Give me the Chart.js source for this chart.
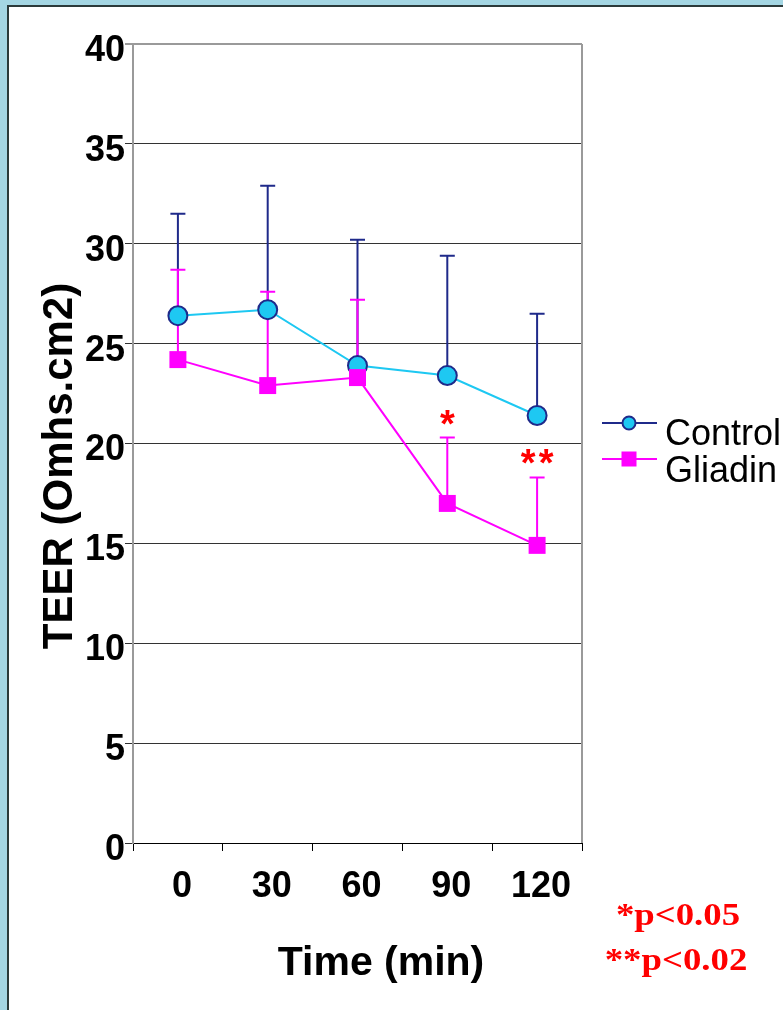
<!DOCTYPE html>
<html><head><meta charset="utf-8">
<script src="https://cdn.jsdelivr.net/npm/chart.js@4.4.0/dist/chart.umd.min.js"></script>
<style>
html,body{margin:0;padding:0;background:#a4d6e3;width:783px;height:1010px;overflow:hidden}
#frame{position:absolute;left:7px;top:5px;width:774px;height:1003px;border-left:2px solid #2b3a3a;border-top:2px solid #2b3a3a;background:#fff}
canvas{position:absolute;left:0;top:0}
</style></head><body>
<div id="frame"><canvas id="c" width="774" height="1003"></canvas></div>
<script>
const categories = ['0', '30', '60', '90', '120'];
const controlValues = [26.4, 26.7, 23.9, 23.4, 21.4];
const controlUpper = [31.5, 32.9, 30.2, 29.4, 26.5];
const gliadinValues = [24.2, 22.9, 23.3, 17.0, 14.9];
const gliadinUpper = [28.7, 27.6, 27.2, 20.3, 18.3];
const significance = ['', '', '', '*', '**'];
const seriesLabels = ['Control', 'Gliadin'];
const yTitle = 'TEER (Omhs.cm2)';
const xTitle = 'Time (min)';
const pNotes = ['*p<0.05', '**p<0.02'];

const NAVY = '#1f2a8a';
const CYAN = '#1ec8f2';
const MAG = '#ff00ff';
const SANS = '"Liberation Sans", Arial, sans-serif';
const SERIF = '"Liberation Serif", "Times New Roman", serif';

const extras = {
  id: 'extras',
  beforeDatasetsDraw(chart) {
    const ctx = chart.ctx, x = chart.scales.x, y = chart.scales.y;
    const bars = [[controlValues, controlUpper, NAVY], [gliadinValues, gliadinUpper, MAG]];
    ctx.save();
    ctx.lineWidth = 2;
    bars.forEach(([vals, ups, col]) => {
      ctx.strokeStyle = col;
      vals.forEach((v, i) => {
        const px = x.getPixelForValue(i);
        const y0 = y.getPixelForValue(v), y1 = y.getPixelForValue(ups[i]);
        ctx.beginPath();
        ctx.moveTo(px, y0); ctx.lineTo(px, y1);
        ctx.moveTo(px - 7.5, y1); ctx.lineTo(px + 7.5, y1);
        ctx.stroke();
      });
    });
    ctx.restore();
  },
  afterDraw(chart) {
    const ctx = chart.ctx, x = chart.scales.x, y = chart.scales.y, a = chart.chartArea;
    ctx.save();
    ctx.strokeStyle = '#9a9a9a'; ctx.lineWidth = 2;
    ctx.beginPath();
    ctx.moveTo(a.right, a.top); ctx.lineTo(a.right, a.bottom);
    ctx.stroke();
    // significance stars
    ctx.fillStyle = '#ff0000';
    ctx.font = 'bold 38px ' + SANS;
    ctx.textAlign = 'center'; ctx.textBaseline = 'alphabetic';
    significance.forEach((s, i) => {
      if (!s) return;
      const px = x.getPixelForValue(i), py = y.getPixelForValue(gliadinUpper[i]) - 1;
      const w = 18;
      for (let k = 0; k < s.length; k++) {
        ctx.fillText('*', px + (k - (s.length - 1) / 2) * w, py);
      }
    });
    // axis titles
    ctx.fillStyle = '#000';
    ctx.font = 'bold 41px ' + SANS;
    ctx.textAlign = 'center'; ctx.textBaseline = 'alphabetic';
    ctx.fillText(xTitle, 372, 968);
    ctx.save();
    ctx.font = 'bold 42px ' + SANS;
    ctx.translate(63, 459); ctx.rotate(-Math.PI / 2);
    ctx.fillText(yTitle, 0, 0);
    ctx.restore();
    // legend
    ctx.lineWidth = 2;
    ctx.strokeStyle = NAVY;
    ctx.beginPath(); ctx.moveTo(593, 416); ctx.lineTo(648, 416); ctx.stroke();
    ctx.beginPath(); ctx.arc(620, 416, 6.5, 0, Math.PI * 2);
    ctx.fillStyle = CYAN; ctx.fill(); ctx.stroke();
    ctx.strokeStyle = MAG;
    ctx.beginPath(); ctx.moveTo(593, 452); ctx.lineTo(648, 452); ctx.stroke();
    ctx.fillStyle = MAG; ctx.fillRect(612.5, 444.5, 15, 15);
    ctx.fillStyle = '#000';
    ctx.font = '36px ' + SANS;
    ctx.textAlign = 'left';
    ctx.fillText(seriesLabels[0], 656, 438);
    ctx.fillText(seriesLabels[1], 656, 475);
    // p-value notes
    ctx.fillStyle = '#ff0000';
    ctx.font = 'bold 32px ' + SERIF;
    ctx.textAlign = 'center';
    [[669, 918], [667, 963]].forEach(([cx, by], i) => {
      ctx.save();
      ctx.translate(cx, by); ctx.scale(1.15, 1);
      ctx.fillText(pNotes[i], 0, 0);
      ctx.restore();
    });
    ctx.restore();
  }
};

new Chart(document.getElementById('c'), {
  type: 'line',
  data: {
    labels: categories,
    datasets: [
      {
        label: seriesLabels[1], data: gliadinValues, order: 0,
        borderColor: MAG, backgroundColor: MAG, borderWidth: 2,
        pointStyle: 'rect', pointRadius: 12, pointBorderWidth: 0,
        pointBackgroundColor: MAG, pointBorderColor: MAG, tension: 0
      },
      {
        label: seriesLabels[0], data: controlValues, order: 1,
        borderColor: CYAN, backgroundColor: CYAN, borderWidth: 2,
        pointStyle: 'circle', pointRadius: 9.5, pointBorderWidth: 2,
        pointBackgroundColor: CYAN, pointBorderColor: NAVY, tension: 0
      }
    ]
  },
  options: {
    responsive: false, animation: false, devicePixelRatio: 1,
    layout: { padding: { left: 0, top: 37, right: 201, bottom: 0 } },
    plugins: { legend: { display: false }, tooltip: { enabled: false } },
    scales: {
      x: {
        offset: true,
        afterFit(s) { s.height = 167; },
        grid: { offset: true, drawOnChartArea: false, drawTicks: true, tickLength: 8, color: '#000', lineWidth: 1 },
        border: { color: '#000', width: 1 },
        ticks: { color: '#000', font: { family: SANS, size: 36, weight: 'bold' }, padding: 14, labelOffset: 4, maxRotation: 0 }
      },
      y: {
        min: 0, max: 40,
        afterFit(s) { s.width = 124; },
        grid: {
          color: c => c.tick && c.tick.value === 40 ? '#9a9a9a' : '#333',
          lineWidth: c => c.tick && c.tick.value === 40 ? 2 : 1,
          tickLength: 8
        },
        border: { color: '#9a9a9a', width: 2 },
        ticks: { stepSize: 5, color: '#000', font: { family: SANS, size: 36, weight: 'bold' }, padding: 0, labelOffset: 7 }
      }
    }
  },
  plugins: [extras]
});
</script>
</body></html>
